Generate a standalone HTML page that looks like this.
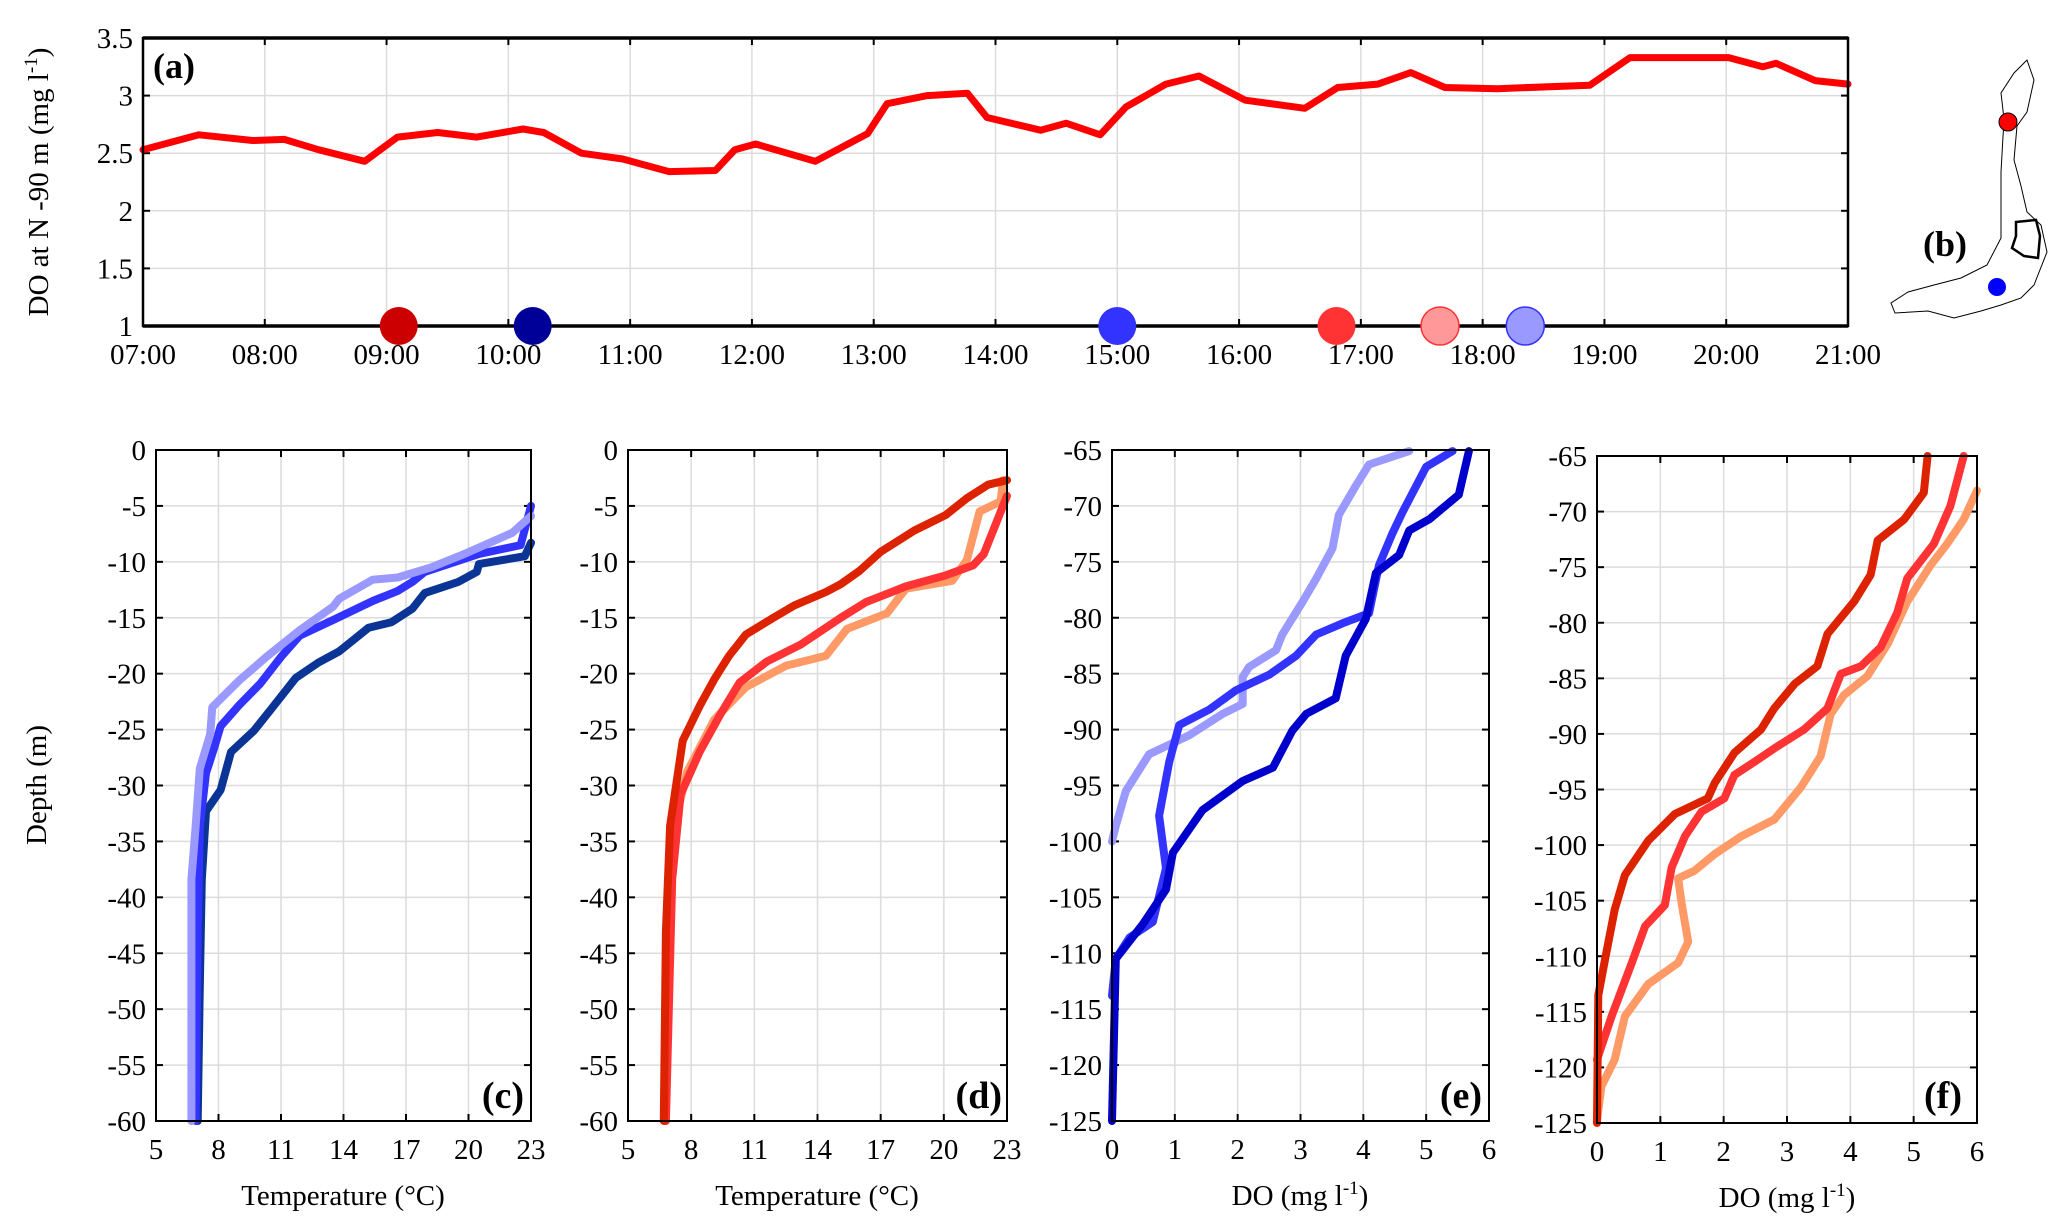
<!DOCTYPE html>
<html><head><meta charset="utf-8"><style>
body{margin:0;background:#fff}
svg{display:block;font-family:"Liberation Serif",serif}
</style></head><body>
<svg id="fig" width="2067" height="1230" viewBox="0 0 2067 1230" xmlns="http://www.w3.org/2000/svg"></svg>
<script>
// ---- panel (a) data ----
const aTimes=[7,7.46,7.9,8.16,8.44,8.82,9.09,9.42,9.74,10.12,10.29,10.6,10.94,11.32,11.7,11.86,12.03,12.52,12.95,13.11,13.44,13.77,13.93,14.37,14.58,14.86,15.07,15.4,15.67,16.05,16.54,16.81,17.14,17.41,17.69,18.12,18.88,19.21,20.02,20.3,20.41,20.73,21];
const aDO=[2.53,2.66,2.61,2.62,2.53,2.43,2.64,2.68,2.64,2.71,2.68,2.50,2.45,2.34,2.35,2.53,2.58,2.43,2.67,2.93,3.00,3.02,2.81,2.70,2.76,2.66,2.90,3.10,3.17,2.96,2.89,3.07,3.10,3.20,3.07,3.06,3.09,3.33,3.33,3.25,3.28,3.13,3.10];
const markerTimes=[9.1,10.2,15.0,16.8,17.65,18.35];
const markerColors=["#cc0000","#000099","#3333ff","#ff3333","#ff9999","#9999ff"];
const aXTicks=["07:00","08:00","09:00","10:00","11:00","12:00","13:00","14:00","15:00","16:00","17:00","18:00","19:00","20:00","21:00"];
const aYTicks=[1,1.5,2,2.5,3,3.5];
// ---- panel (c) temperature, blue casts ----
const cLightT=[23,22.1,19.8,18.2,16.6,15.4,13.8,13.5,11.9,10.3,9.0,7.7,7.6,7.1,6.9,6.7,6.7];
const cLightD=[-5.9,-7.4,-9.3,-10.5,-11.4,-11.6,-13.3,-14,-16.1,-18.5,-20.6,-23,-25.4,-28.5,-33.7,-38.4,-60];
const cBlueT=[23,22.5,20.5,17.9,17.3,16.6,15.4,13.5,11.9,11.0,10.0,9.0,8.1,7.8,7.4,7.1,7.0,6.9];
const cBlueD=[-5,-8.5,-9.3,-10.9,-11.8,-12.6,-13.5,-15.2,-16.6,-18.5,-20.9,-22.8,-24.7,-26.6,-28.9,-33.7,-43,-60];
const cNavyT=[23,22.7,20.5,20.4,19.5,17.9,17.3,16.3,15.2,13.8,12.8,11.7,10.6,9.7,8.6,8.1,7.4,7.2,7.1,7.0];
const cNavyD=[-8.3,-9.5,-10.2,-10.9,-11.8,-12.8,-14.2,-15.4,-15.9,-18,-19,-20.4,-23,-25.1,-27,-30.4,-32.3,-38.4,-48,-60];
// ---- panel (d) temperature, red casts ----
const dDarkT=[23,22.1,21.1,20.1,18.6,17.0,16.0,15.1,14.4,12.9,11.9,10.6,9.8,9.1,8.4,7.6,7.3,7.0,6.8,6.7];
const dDarkD=[-2.7,-3.1,-4.3,-5.8,-7.2,-9.1,-10.8,-12,-12.7,-13.9,-15,-16.5,-18.4,-20.5,-22.9,-26,-29.8,-33.6,-43.1,-60];
const dRedT=[23,21.9,21.4,20.1,18.2,16.3,15.1,13.2,11.6,10.3,9.4,8.4,7.5,7.1,6.8];
const dRedD=[-4.1,-9.3,-10.3,-11.2,-12.2,-13.6,-15,-17.4,-18.9,-20.8,-23.6,-27,-30.8,-38.4,-60];
const dOrangeT=[22.8,22.7,21.7,21.1,20.4,18.2,17.3,15.4,14.4,12.5,10.6,9.1,7.8,7.2,6.9,6.8];
const dOrangeD=[-2.7,-4.6,-5.5,-9.8,-11.7,-12.4,-14.6,-16,-18.4,-19.3,-21.2,-24.1,-28.8,-33.6,-43,-60];
// ---- panel (e) DO, blue casts ----
const eLightO=[4.73,4.09,3.88,3.61,3.51,3.25,3.03,2.71,2.61,2.18,2.08,2.08,1.76,1.23,0.59,0.22,0.06,0];
const eLightD=[-65.1,-66.3,-68.2,-70.8,-73.8,-76.5,-78.6,-81.5,-82.9,-84.4,-85.3,-87.7,-88.6,-90.5,-92.2,-95.5,-98.6,-100];
const eBlueO=[5.42,5.0,4.62,4.46,4.25,4.09,3.67,3.25,2.93,2.5,1.97,1.55,1.07,0.91,0.75,0.86,0.65,0.28,0.06,0];
const eBlueD=[-65.1,-66.5,-70.6,-72.5,-75.3,-79.6,-80.5,-81.5,-83.4,-85.1,-86.5,-88.2,-89.6,-92.9,-97.7,-102.4,-107.2,-108.6,-110.5,-113.8];
const eNavyO=[5.68,5.52,5.05,4.73,4.57,4.2,4.04,3.72,3.56,3.09,2.87,2.56,2.08,1.44,0.97,0.86,0.49,0.06,0];
const eNavyD=[-65.1,-69,-71.2,-72.2,-74.4,-76,-80.1,-83.4,-87.2,-88.6,-90.1,-93.4,-94.6,-97.2,-101,-104.3,-107.4,-110.5,-125];
// ---- panel (f) DO, red casts ----
const fDarkO=[5.22,5.16,4.85,4.43,4.32,4.06,3.64,3.48,3.12,2.8,2.59,2.17,1.86,1.75,1.23,0.81,0.44,0.28,0.13,0.02,0];
const fDarkD=[-65,-68.3,-70.7,-72.6,-75.7,-78.1,-81,-83.9,-85.5,-87.7,-89.6,-91.7,-94.4,-95.8,-97.2,-99.6,-102.7,-105.8,-110.2,-113.5,-125];
const fRedO=[5.79,5.58,5.32,4.9,4.74,4.48,4.17,3.85,3.64,3.27,2.8,2.49,2.17,2.01,1.65,1.39,1.18,1.07,0.76,0.55,0.23,0];
const fRedD=[-65,-69.5,-72.9,-76,-79.1,-82.2,-83.9,-84.6,-87.7,-89.6,-91.3,-92.5,-93.7,-95.8,-97,-99.2,-102,-105.4,-107.3,-110.6,-115.4,-119.3];
const fOrangeO=[6.0,5.79,5.53,5.27,4.9,4.59,4.27,3.9,3.69,3.53,3.22,2.8,2.28,1.86,1.54,1.28,1.34,1.44,1.28,0.81,0.44,0.28,0.07,0];
const fOrangeD=[-68.1,-70.7,-72.9,-74.8,-78.1,-81.9,-84.8,-86.5,-88.2,-92,-94.8,-97.7,-99.2,-100.8,-102.3,-103,-105.4,-108.7,-110.6,-112.5,-115.4,-119.3,-121.7,-124.8];
const tempTicks=[5,8,11,14,17,20,23];
const doTicks=[0,1,2,3,4,5,6];
const depthTicksT=[0,-5,-10,-15,-20,-25,-30,-35,-40,-45,-50,-55,-60];
const depthTicksO=[-65,-70,-75,-80,-85,-90,-95,-100,-105,-110,-115,-120,-125];

const NS="http://www.w3.org/2000/svg";
const svg=document.getElementById('fig');
function mk(tag,attrs,parent){const e=document.createElementNS(NS,tag);for(const k in attrs)e.setAttribute(k,attrs[k]);(parent||svg).appendChild(e);return e;}
function txt(s,x,y,size,anchor,parent,weight){const t=mk('text',{x:x,y:y,'font-size':size,'text-anchor':anchor||'middle','font-weight':weight||'normal',fill:'#000'},parent);t.textContent=s;return t;}

function axes(name,L,R,T,B,x0,x1,y0,y1,xt,yt,xlabels,ylabelsFmt){
  const g=mk('g',{});
  
  
  const sx=v=>L+(v-x0)/(x1-x0)*(R-L);
  const sy=v=>T+(y1-v)/(y1-y0)*(B-T);
  xt.forEach((v,i)=>{const l=mk('line',{x1:sx(v),x2:sx(v),y1:T,y2:B,stroke:'#dcdcdc','stroke-width':1.5},g);});
  yt.forEach(v=>{const l=mk('line',{x1:L,x2:R,y1:sy(v),y2:sy(v),stroke:'#dcdcdc','stroke-width':1.5},g);});
  xt.forEach((v,i)=>{
    const t=txt(xlabels?xlabels[i]:String(v),sx(v),B+38,29,'middle',g);
    
    mk('line',{x1:sx(v),x2:sx(v),y1:T,y2:T+7,stroke:'#000','stroke-width':2},g);
    mk('line',{x1:sx(v),x2:sx(v),y1:B,y2:B-7,stroke:'#000','stroke-width':2},g);
  });
  yt.forEach(v=>{
    const t=txt(ylabelsFmt?ylabelsFmt(v):String(v),L-10,sy(v)+10,29,'end',g);
    
    mk('line',{x1:L,x2:L+7,y1:sy(v),y2:sy(v),stroke:'#000','stroke-width':2},g);
    mk('line',{x1:R,x2:R-7,y1:sy(v),y2:sy(v),stroke:'#000','stroke-width':2},g);
  });
  return {g,sx,sy,L,R,T,B};
}
function frame(ax,w){const r=mk('rect',{x:ax.L,y:ax.T,width:ax.R-ax.L,height:ax.B-ax.T,fill:'none',stroke:'#000','stroke-width':w||2},ax.g);}
function line(ax,xs,ys,color,w,name){
  const d=xs.map((x,i)=>(i?'L':'M')+ax.sx(x).toFixed(1)+','+ax.sy(ys[i]).toFixed(1)).join('');
  const p=mk('path',{d:d,fill:'none',stroke:color,'stroke-width':w,'stroke-linejoin':'round','stroke-linecap':'round'},ax.g);
  
  
}

// Panel a
const A=axes('panel-a',143,1848,38,326,7,21,1,3.5,[7,8,9,10,11,12,13,14,15,16,17,18,19,20,21],aYTicks,aXTicks,v=>String(v));
line(A,aTimes,aDO,'#ff0000',7,'do-timeseries');
frame(A,2.5);
mk('line',{x1:143,x2:1848,y1:38,y2:38,stroke:'#000','stroke-width':3.5},A.g);
mk('line',{x1:143,x2:1848,y1:326,y2:326,stroke:'#000','stroke-width':3.5},A.g);
markerTimes.forEach((t,i)=>{
  const c=mk('circle',{cx:A.sx(t),cy:A.sy(1),r:19,fill:markerColors[i],stroke:i==4?'#ff3333':(i==5?'#3333ff':'none'),'stroke-width':1.5},A.g);
  
  
});
let t=txt('(a)',153,78,36,'start',A.g,'bold');
t=mk('text',{transform:'translate(48,182) rotate(-90)','font-size':29,'text-anchor':'middle'});t.innerHTML='DO at N -90 m (mg l<tspan dy="-11" font-size="19">-1</tspan><tspan dy="11">)</tspan>';


// Map b
const map=mk('g',{});


mk('path',{d:'M2027,60 L2034,80 L2027,112 L2017,126 L2014,160 L2021,186 L2027,212 L2041,225 L2047,252 L2034,285 L2021,298 L2001,305 L1981,311 L1954,318 L1928,311 L1895,313 L1891,303 L1908,292 L1934,285 L1961,278 L1987,265 L2001,238 L2001,172 L2004,119 L2001,93 L2014,73 Z',fill:'none',stroke:'#000','stroke-width':1},map);
mk('path',{d:'M2016,222 L2036,220 L2040,236 L2038,258 L2024,256 L2012,248 L2016,236 Z',fill:'none',stroke:'#000','stroke-width':2.5},map);
let c=mk('circle',{cx:2008,cy:122,r:9,fill:'#ff0000',stroke:'#000','stroke-width':1},map);
c=mk('circle',{cx:1997,cy:287,r:9,fill:'#0000ff'},map);
t=txt('(b)',1945,256,36,'middle',map,'bold');

// Panel c
const C=axes('panel-c',156,531,450,1121,5,23,-60,0,tempTicks,depthTicksT);
line(C,cNavyT,cNavyD,'#0a3596',8,'temp-profile-navy');
line(C,cBlueT,cBlueD,'#3333ff',8,'temp-profile-blue');
line(C,cLightT,cLightD,'#9999ff',8,'temp-profile-lightblue');
frame(C);
t=txt('(c)',524,1108,38,'end',C.g,'bold');
t=txt('Temperature (°C)',343,1205,29,'middle',C.g);
t=mk('text',{transform:'translate(46,785) rotate(-90)','font-size':29,'text-anchor':'middle'});t.textContent='Depth (m)';


// Panel d
const D=axes('panel-d',628,1007,450,1121,5,23,-60,0,tempTicks,depthTicksT);
line(D,dOrangeT,dOrangeD,'#ff9966',8,'temp-profile-orange');
line(D,dRedT,dRedD,'#ff3333',8,'temp-profile-red');
line(D,dDarkT,dDarkD,'#dd2200',8,'temp-profile-darkred');
frame(D);
t=txt('(d)',1002,1108,38,'end',D.g,'bold');
t=txt('Temperature (°C)',817,1205,29,'middle',D.g);

// Panel e
const E=axes('panel-e',1112,1489,450,1121,0,6,-125,-65,doTicks,depthTicksO);
line(E,eLightO,eLightD,'#9999ff',8,'do-profile-lightblue');
line(E,eBlueO,eBlueD,'#3333ff',8,'do-profile-blue');
line(E,eNavyO,eNavyD,'#0000cc',8,'do-profile-navy');
frame(E);
t=txt('(e)',1482,1108,38,'end',E.g,'bold');
t=mk('text',{x:1300,y:1205,'font-size':29,'text-anchor':'middle'},E.g);t.innerHTML='DO (mg l<tspan dy="-11" font-size="19">-1</tspan><tspan dy="11">)</tspan>';


// Panel f
const F=axes('panel-f',1597,1977,456,1123,0,6,-125,-65,doTicks,depthTicksO);
line(F,fOrangeO,fOrangeD,'#ff9966',8,'do-profile-orange');
line(F,fRedO,fRedD,'#ff3333',8,'do-profile-red');
line(F,fDarkO,fDarkD,'#dd2200',8,'do-profile-darkred');
frame(F);
t=txt('(f)',1962,1108,38,'end',F.g,'bold');
t=mk('text',{x:1787,y:1207,'font-size':29,'text-anchor':'middle'},F.g);t.innerHTML='DO (mg l<tspan dy="-11" font-size="19">-1</tspan><tspan dy="11">)</tspan>';

</script>
</body></html>
